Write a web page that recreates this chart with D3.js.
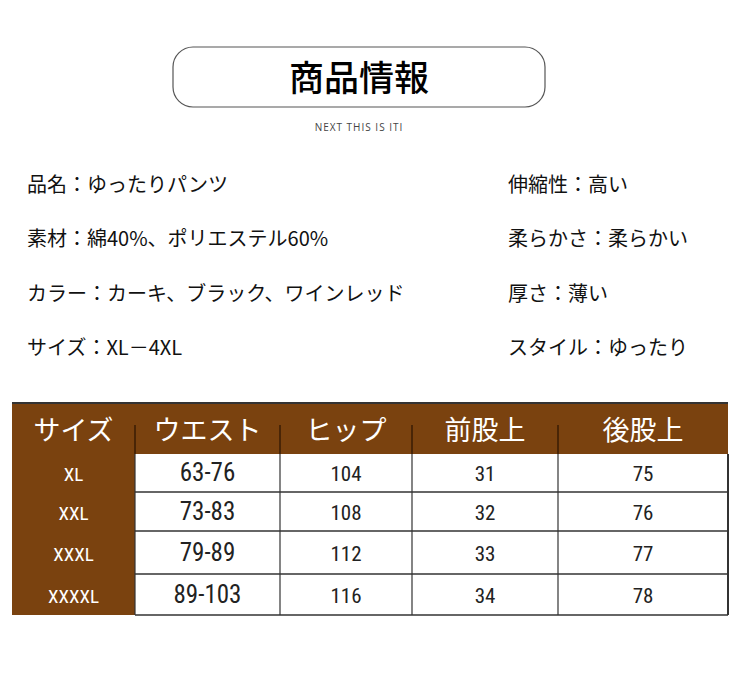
<!DOCTYPE html>
<html><head><meta charset="utf-8">
<script src="https://cdn.jsdelivr.net/npm/d3@7"></script>
<style>body{margin:0;background:#fff}</style>
</head><body><svg id="c"></svg>
<script>
const title = '商品情報';
const subtitle = 'NEXT THIS IS ITI';
const leftInfo = ['品名：ゆったりパンツ', '素材：綿40%、ポリエステル60%', 'カラー：カーキ、ブラック、ワインレッド', 'サイズ：XL－4XL'];
const rightInfo = ['伸縮性：高い', '柔らかさ：柔らかい', '厚さ：薄い', 'スタイル：ゆったり'];
const headers = ['サイズ', 'ウエスト', 'ヒップ', '前股上', '後股上'];
const sizes = ['XL', 'XXL', 'XXXL', 'XXXXL'];
const waist = ['63-76', '73-83', '79-89', '89-103'];
const hip = [104, 108, 112, 116];
const frontRise = [31, 32, 33, 34];
const backRise = [75, 76, 77, 78];

const W = 750, H = 675, brown = '#7a420f';
const jp = '"Noto Sans CJK JP","Noto Sans",sans-serif';
const narrow = '"Liberation Sans Narrow","Roboto Condensed","DejaVu Sans Condensed",sans-serif';
const svg = d3.select('#c').attr('width', W).attr('height', H);

// header box
svg.append('rect').attr('x', 173).attr('y', 47).attr('width', 372).attr('height', 60)
  .attr('rx', 20).attr('fill', 'none').attr('stroke', '#555').attr('stroke-width', 1.2);
svg.append('text').attr('x', 359).attr('y', 91).attr('text-anchor', 'middle')
  .attr('font-family', jp).attr('font-size', 35).attr('font-weight', 500).text(title);
svg.append('text').attr('x', 359).attr('y', 131).attr('text-anchor', 'middle')
  .attr('font-family', '"Open Sans",sans-serif').attr('font-size', 10).attr('letter-spacing', 1)
  .attr('fill', '#444').text(subtitle);

// info lines
const yInfo = d3.scalePoint().domain(d3.range(4)).range([192, 355]);
svg.selectAll('.li').data(leftInfo).join('text').attr('x', 27).attr('y', (d, i) => yInfo(i))
  .attr('font-family', jp).attr('font-size', 20).attr('fill', '#111').text(d => d);
svg.selectAll('.ri').data(rightInfo).join('text').attr('x', 508).attr('y', (d, i) => yInfo(i))
  .attr('font-family', jp).attr('font-size', 20).attr('fill', '#111').text(d => d);

// table
const colEdges = [12, 135, 280, 412, 558, 728];
const rowEdges = [403, 454, 492, 531, 574, 615];
const table = sizes.map((s, i) => [s, waist[i], hip[i], frontRise[i], backRise[i]]);
const g = svg.append('g');
g.append('rect').attr('x', 12).attr('y', 403).attr('width', 716).attr('height', 51).attr('fill', brown);
g.append('rect').attr('x', 12).attr('y', 454).attr('width', 123).attr('height', 161).attr('fill', brown);
g.append('line').attr('x1', 12).attr('x2', 728).attr('y1', 403).attr('y2', 403).attr('stroke', '#333').attr('stroke-width', 2);
headers.forEach((h, c) => {
  g.append('text').attr('x', (colEdges[c] + colEdges[c + 1]) / 2).attr('y', 440)
    .attr('text-anchor', 'middle').attr('fill', '#fff').attr('font-family', jp)
    .attr('font-size', 27).text(h);
  if (c > 0) g.append('line').attr('x1', colEdges[c]).attr('x2', colEdges[c]).attr('y1', 425).attr('y2', 454)
    .attr('stroke', '#3a1d05').attr('stroke-width', 1.5);
});
table.forEach((row, r) => {
  const y0 = rowEdges[r + 1], y1 = rowEdges[r + 2];
  g.append('line').attr('x1', 135).attr('x2', 728).attr('y1', y1).attr('y2', y1).attr('stroke', '#333').attr('stroke-width', 1.5);
  row.forEach((v, c) => {
    g.append('text').attr('x', (colEdges[c] + colEdges[c + 1]) / 2).attr('y', (y0 + y1) / 2 + 8)
      .attr('text-anchor', 'middle').attr('font-family', narrow)
      .attr('font-size', c === 0 ? 19 : c === 1 ? 25 : 21)
      .attr('fill', c === 0 ? '#fff' : '#222').text(v);
  });
});
colEdges.slice(1).forEach(x => g.append('line').attr('x1', x).attr('x2', x).attr('y1', 454).attr('y2', 615)
  .attr('stroke', '#333').attr('stroke-width', x === 728 ? 2 : 1.2));
</script></body></html>
